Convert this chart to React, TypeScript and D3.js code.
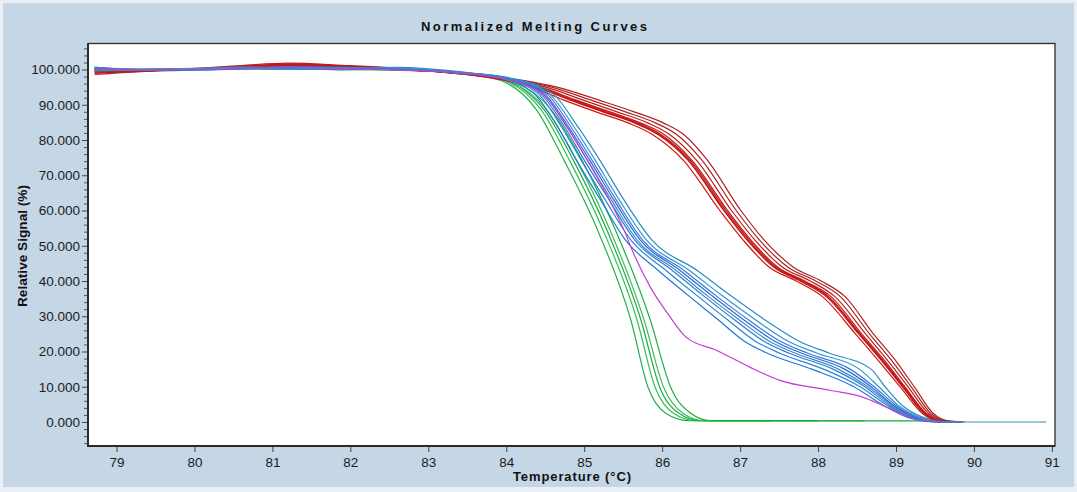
import React, { useEffect, useRef } from "react";
import * as d3 from "d3";

// plateau region, same temperatures for every well
const plateauTemps = [78.72, 79.3, 80.0, 80.6, 81.2, 81.9, 82.6];

// red wells: signal levels and the temperature where each curve crosses them
const redLevels = [99.3, 98.2, 97, 95, 91.3, 88, 84.8, 81.5, 74.3, 60, 51.6, 44, 40, 35.5, 25, 17, 9.8, 2.4, 0.4, 0];
const redTemps = [
  [83.14, 83.62, 83.97, 84.33, 84.74, 85.15, 85.57, 85.88, 86.27, 86.74, 87.04, 87.37, 87.72, 88.06, 88.48, 88.79, 89.06, 89.34, 89.51, 89.74],
  [83.16, 83.65, 84.01, 84.38, 84.82, 85.24, 85.65, 85.95, 86.33, 86.79, 87.09, 87.43, 87.77, 88.11, 88.52, 88.83, 89.09, 89.36, 89.53, 89.76],
  [83.17, 83.66, 84.02, 84.4, 84.84, 85.26, 85.67, 85.97, 86.34, 86.8, 87.1, 87.44, 87.79, 88.13, 88.53, 88.84, 89.1, 89.37, 89.54, 89.77],
  [83.18, 83.67, 84.03, 84.42, 84.87, 85.29, 85.7, 85.99, 86.36, 86.82, 87.12, 87.46, 87.81, 88.14, 88.54, 88.85, 89.11, 89.38, 89.55, 89.78],
  [83.19, 83.69, 84.05, 84.44, 84.9, 85.33, 85.73, 86.03, 86.38, 86.84, 87.14, 87.48, 87.83, 88.17, 88.56, 88.87, 89.12, 89.39, 89.56, 89.79],
  [83.22, 83.72, 84.09, 84.51, 84.99, 85.42, 85.82, 86.1, 86.44, 86.89, 87.19, 87.54, 87.9, 88.22, 88.61, 88.91, 89.16, 89.42, 89.59, 89.82],
  [83.25, 83.76, 84.14, 84.58, 85.09, 85.53, 85.92, 86.19, 86.51, 86.95, 87.25, 87.61, 87.97, 88.29, 88.66, 88.96, 89.2, 89.45, 89.62, 89.85],
  [83.28, 83.8, 84.19, 84.65, 85.19, 85.64, 86.02, 86.28, 86.58, 87.01, 87.31, 87.68, 88.04, 88.35, 88.71, 89.01, 89.24, 89.48, 89.65, 89.88],
];
const redPlateaus = [
  [99.4, 99.6, 100.1, 100.9, 101.4, 100.9, 100.2],
  [98.6, 99.4, 100.0, 100.7, 101.6, 101.0, 100.3],
  [99.8, 99.9, 100.2, 101.0, 101.2, 100.6, 100.0],
  [99.2, 99.7, 100.0, 100.5, 100.9, 100.5, 99.9],
  [100.2, 99.8, 100.3, 101.1, 101.8, 101.2, 100.4],
  [99.6, 99.9, 100.1, 100.6, 101.0, 100.7, 100.1],
  [99.0, 99.5, 99.9, 100.8, 101.3, 100.8, 100.0],
  [99.7, 100.0, 100.2, 100.7, 101.1, 100.6, 100.2],
];
const redColors = ["#c81818", "#d01010", "#b41c1c", "#cc1414", "#c01a1a", "#b82020", "#a82424", "#b02222"];

// blue wells
const blueLevels = [99, 97.6, 93.3, 83.7, 74.3, 63, 51.6, 43, 36, 28.8, 23, 19.5, 15, 10, 4.7, 1.3, 0.2, 0];
const blueTemps = [
  [83.35, 83.89, 84.35, 84.66, 84.9, 85.21, 85.53, 85.95, 86.33, 86.73, 87.05, 87.35, 87.92, 88.46, 88.84, 89.15, 89.39, 89.62],
  [83.39, 83.92, 84.4, 84.71, 84.96, 85.27, 85.6, 86.05, 86.44, 86.85, 87.19, 87.51, 88.07, 88.54, 88.89, 89.19, 89.42, 89.66],
  [83.42, 83.95, 84.43, 84.75, 85.0, 85.32, 85.65, 86.13, 86.52, 86.94, 87.3, 87.63, 88.19, 88.6, 88.92, 89.22, 89.45, 89.69],
  [83.44, 83.96, 84.46, 84.78, 85.04, 85.35, 85.68, 86.18, 86.57, 87.0, 87.37, 87.71, 88.26, 88.64, 88.95, 89.24, 89.46, 89.71],
  [83.46, 83.98, 84.48, 84.8, 85.07, 85.38, 85.72, 86.23, 86.63, 87.06, 87.44, 87.79, 88.34, 88.68, 88.97, 89.26, 89.48, 89.73],
  [83.48, 83.99, 84.51, 84.83, 85.1, 85.41, 85.75, 86.28, 86.68, 87.12, 87.51, 87.87, 88.41, 88.72, 89.0, 89.28, 89.49, 89.75],
  [83.51, 84.02, 84.54, 84.87, 85.14, 85.45, 85.8, 86.35, 86.76, 87.21, 87.61, 87.99, 88.53, 88.78, 89.03, 89.31, 89.52, 89.78],
  [83.55, 84.05, 84.59, 84.92, 85.2, 85.51, 85.87, 86.45, 86.87, 87.33, 87.75, 88.15, 88.68, 88.86, 89.08, 89.35, 89.55, 89.82],
];
const bluePlateaus = [
  [100.3, 99.9, 100.0, 100.3, 100.6, 100.3, 100.0],
  [99.8, 99.9, 100.1, 100.5, 100.4, 100.2, 100.1],
  [100.5, 100.0, 99.9, 100.2, 100.8, 100.6, 100.2],
  [99.6, 99.8, 100.2, 100.4, 100.2, 100.1, 99.9],
  [100.1, 100.0, 100.0, 100.6, 100.5, 100.4, 100.3],
  [100.4, 99.9, 100.1, 100.1, 100.3, 100.0, 100.0],
  [99.9, 100.1, 100.3, 100.7, 100.6, 100.5, 100.4],
  [100.6, 100.0, 99.8, 100.3, 100.2, 100.3, 100.6],
];
const blueColors = ["#1f78d6", "#2a86cc", "#3577e0", "#3a8fb8", "#1f6fd6", "#4a6ee6", "#2b9ac4", "#2c8cc8"];
const longCurveIndex = 3;
const longCurveEnd = 90.93;

// green wells
const greenLevels = [99, 96.8, 88.5, 74.3, 54, 28.8, 9.8, 2.4, 0.4];
const greenTemps = [
  [83.44, 83.94, 84.39, 84.74, 85.18, 85.6, 85.82, 86.05, 86.33],
  [83.47, 83.98, 84.45, 84.81, 85.25, 85.68, 85.91, 86.15, 86.42],
  [83.49, 84.01, 84.49, 84.86, 85.3, 85.73, 85.97, 86.22, 86.48],
  [83.51, 84.03, 84.52, 84.9, 85.34, 85.77, 86.02, 86.27, 86.53],
  [83.54, 84.07, 84.58, 84.97, 85.41, 85.85, 86.11, 86.37, 86.62],
];
const greenPlateaus = [
  [100.4, 100.0, 100.1, 100.3, 100.1, 100.0, 99.9],
  [100.7, 99.9, 100.0, 100.5, 100.4, 100.2, 100.0],
  [100.0, 100.1, 100.2, 100.2, 100.3, 99.9, 100.1],
  [100.5, 99.8, 100.0, 100.4, 100.0, 100.1, 99.8],
  [99.9, 100.0, 100.1, 100.6, 100.2, 100.3, 100.0],
];
const greenEnds = [87.4, 88.6, 89.6, 87.0, 88.0];
const greenEndLevel = 0.3;
const greenColors = ["#22b14c", "#2ec050", "#1fa845", "#3cbc5c", "#19b040"];

// single magenta well
const magentaPlateau = [100.2, 99.9, 100.0, 100.4, 100.6, 100.2, 99.9];
const magentaTemps = [83.45, 83.95, 84.47, 84.77, 85.02, 85.3, 85.5, 85.63, 85.85, 86.07, 86.31, 86.7, 87.13, 87.51, 88.15, 88.58, 88.89, 89.25, 89.55];
const magentaValues = [99, 97.4, 93, 84, 75, 64, 55, 48, 38.2, 30.8, 24, 20.3, 15.5, 11.8, 9, 7, 4.1, 1, 0];

const xTicks = d3.range(79, 92);
const yTicks = d3.range(0, 101, 10);
const yMinorTicks = d3.range(-6, 108, 2).filter((v) => v % 10 !== 0);

const W = 1077;
const H = 492;
const left = 88;
const right = 1055;
const top = 43.5;
const bottom = 446;
const font = "'Liberation Sans', Arial, sans-serif";

const App = () => {
  const ref = useRef<SVGSVGElement>(null);

  useEffect(() => {
    const svg = d3.select(ref.current);
    svg.selectAll("*").remove();

    const x = d3.scaleLinear().domain([78.634, 91.04]).range([left, right]);
    const y = d3.scaleLinear().domain([-6.81, 107.38]).range([bottom, top]);

    svg.append("rect").attr("width", W).attr("height", H).attr("fill", "#e9eff5");
    svg.append("rect").attr("x", 3).attr("y", 3).attr("width", W - 6).attr("height", 484).attr("fill", "#c5d6e7");
    svg
      .append("rect")
      .attr("x", left)
      .attr("y", top)
      .attr("width", right - left)
      .attr("height", bottom - top)
      .attr("fill", "#ffffff");

    svg
      .append("clipPath")
      .attr("id", "plotclip")
      .append("rect")
      .attr("x", left)
      .attr("y", top)
      .attr("width", right - left)
      .attr("height", bottom - top);

    const series: { pts: [number, number][]; color: string }[] = [];
    greenTemps.forEach((temps, i) => {
      const pts: [number, number][] = plateauTemps.map((t, j) => [t, greenPlateaus[i][j]]);
      temps.forEach((t, j) => pts.push([t, greenLevels[j]]));
      pts.push([greenEnds[i], greenEndLevel]);
      series.push({ pts, color: greenColors[i] });
    });
    redTemps.forEach((temps, i) => {
      const pts: [number, number][] = plateauTemps.map((t, j) => [t, redPlateaus[i][j]]);
      temps.forEach((t, j) => pts.push([t, redLevels[j]]));
      series.push({ pts, color: redColors[i] });
    });
    blueTemps.forEach((temps, i) => {
      const pts: [number, number][] = plateauTemps.map((t, j) => [t, bluePlateaus[i][j]]);
      temps.forEach((t, j) => pts.push([t, blueLevels[j]]));
      if (i === longCurveIndex) pts.push([longCurveEnd, 0]);
      series.push({ pts, color: blueColors[i] });
    });
    {
      const pts: [number, number][] = plateauTemps.map((t, j) => [t, magentaPlateau[j]]);
      magentaTemps.forEach((t, j) => pts.push([t, magentaValues[j]]));
      series.push({ pts, color: "#c23fd0" });
    }

    const line = d3
      .line<[number, number]>()
      .x((d) => x(d[0]))
      .y((d) => y(d[1]))
      .curve(d3.curveMonotoneX);

    svg
      .append("g")
      .attr("clip-path", "url(#plotclip)")
      .selectAll("path")
      .data(series)
      .join("path")
      .attr("d", (d) => line(d.pts))
      .attr("fill", "none")
      .attr("stroke", (d) => d.color)
      .attr("stroke-width", 1.2);

    // frame
    svg
      .append("rect")
      .attr("x", left)
      .attr("y", top)
      .attr("width", right - left)
      .attr("height", bottom - top)
      .attr("fill", "none")
      .attr("stroke", "#2b2b2b")
      .attr("stroke-width", 1.3);
    svg.append("line").attr("x1", left).attr("x2", left).attr("y1", top).attr("y2", bottom + 1).attr("stroke", "#2b2b2b").attr("stroke-width", 2);
    svg.append("line").attr("x1", left).attr("x2", right).attr("y1", bottom).attr("y2", bottom).attr("stroke", "#2b2b2b").attr("stroke-width", 2);

    // y axis
    svg
      .append("g")
      .attr("transform", `translate(${left - 1},0)`)
      .call(d3.axisLeft(y).tickValues(yMinorTicks).tickSize(3).tickFormat(() => ""))
      .call((g) => g.select(".domain").remove())
      .call((g) => g.selectAll("line").attr("stroke", "#555"));
    svg
      .append("g")
      .attr("transform", `translate(${left - 1},0)`)
      .call(d3.axisLeft(y).tickValues(yTicks).tickSize(5).tickPadding(2).tickFormat(d3.format(".3f")))
      .call((g) => g.select(".domain").remove())
      .call((g) => g.selectAll("line").attr("stroke", "#444"))
      .call((g) =>
        g.selectAll("text").attr("font-size", 13.5).attr("font-family", font).attr("fill", "#1c1c1c")
      );

    // x axis
    svg
      .append("g")
      .attr("transform", `translate(0,${bottom + 1})`)
      .call(d3.axisBottom(x).tickValues(xTicks).tickSize(5).tickPadding(5).tickFormat(d3.format("d")))
      .call((g) => g.select(".domain").remove())
      .call((g) => g.selectAll("line").attr("stroke", "#444"))
      .call((g) =>
        g.selectAll("text").attr("font-size", 13.5).attr("font-family", font).attr("fill", "#1c1c1c")
      );

    // titles
    svg
      .append("text")
      .attr("x", 534)
      .attr("y", 31)
      .attr("text-anchor", "middle")
      .attr("font-family", font)
      .attr("font-weight", "bold")
      .attr("font-size", 13)
      .attr("textLength", 226)
      .attr("lengthAdjust", "spacing")
      .attr("fill", "#111")
      .text("Normalized Melting Curves");

    svg
      .append("text")
      .attr("x", 572)
      .attr("y", 481)
      .attr("text-anchor", "middle")
      .attr("font-family", font)
      .attr("font-weight", "bold")
      .attr("font-size", 13)
      .attr("textLength", 118)
      .attr("lengthAdjust", "spacing")
      .attr("fill", "#111")
      .text("Temperature (°C)");

    svg
      .append("text")
      .attr("transform", "translate(27,246) rotate(-90)")
      .attr("text-anchor", "middle")
      .attr("font-family", font)
      .attr("font-weight", "bold")
      .attr("font-size", 12.5)
      .attr("textLength", 122)
      .attr("lengthAdjust", "spacingAndGlyphs")
      .attr("fill", "#111")
      .text("Relative Signal (%)");
  }, []);

  return (
    <svg
      ref={ref}
      width={W}
      height={H}
      style={{ position: "absolute", left: 0, top: 0, display: "block" }}
    />
  );
};

export default App;
